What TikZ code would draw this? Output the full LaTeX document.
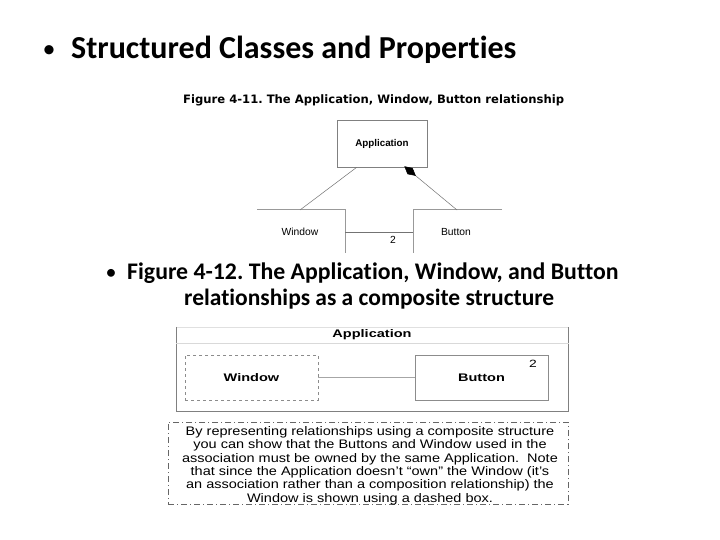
\documentclass[tikz,border=0pt]{standalone}
\usepackage{fontspec}
\setmainfont{Liberation Sans}
\newfontfamily\calfont[Ligatures={NoCommon}]{Carlito}
\newfontfamily\capfont{DejaVu Sans}
\newfontfamily\widefont[FakeStretch=1.32]{Liberation Sans}
\newfontfamily\notefont[FakeStretch=1.17,Ligatures=TeX]{Liberation Sans}
\usetikzlibrary{arrows.meta}
\tikzset{
  umlline/.style={draw=black!55, line width=0.5pt},
  smalllab/.style={font=\fontsize{10.3}{12}\selectfont, inner sep=0pt},
  widelab/.style={font=\widefont\fontsize{11}{12}\selectfont\bfseries, inner sep=0pt},
}
\begin{document}
\frenchspacing
\begin{tikzpicture}[x=1pt,y=-1pt]
\useasboundingbox (0,0) rectangle (720,540);
\fill[white] (0,0) rectangle (720,540);
% title
\node[anchor=base west, inner sep=0pt, font=\calfont\fontsize{32}{34}\selectfont\bfseries] (title) at (71,59) {Structured Classes and Properties};
\node[anchor=base, inner sep=0pt, font=\calfont\fontsize{26}{30}\selectfont] (bul1) at (49,58) {•};
% Figure 4-11 caption
\node[anchor=base west, inner sep=0pt, font=\capfont\fontsize{11.6}{13}\selectfont\bfseries] (cap1) at (183,104) {Figure 4-11. The Application, Window, Button relationship};
% Application box
\node[draw=black!50, line width=0.6pt, minimum width=90pt, minimum height=47pt, inner sep=0pt, font=\fontsize{9.8}{11}\selectfont\bfseries] (app) at (382,143.5) {Application};
% partial class boxes
\coordinate (wtl) at (257,210);
\coordinate (wtr) at (345,210);
\coordinate (wbr) at (345,253);
\coordinate (btl) at (413,210);
\coordinate (btr) at (502,210);
\coordinate (bbl) at (413,253);
\draw[draw=black!40, line width=1pt] (wtl) -- (wtr) -- (wbr);
\draw[draw=black!40, line width=1pt] (btr) -- (btl) -- (bbl);
\node[smalllab] (win1) at (300,232) {Window};
\node[smalllab] (but1) at (456,232) {Button};
\coordinate (wmid) at (345,232);
\coordinate (bmid) at (413,232);
\draw[umlline] (wmid) -- (bmid);
\node[smalllab] (two1) at (393,240) {2};
\coordinate (wtop) at (300,210);
\coordinate (btop) at (457,210);
\draw[umlline] (app.south west) ++(20,0) coordinate (appL) -- (wtop);
\draw[umlline, {Diamond[length=15pt,width=8pt,black]}-] (app.south east) ++(-23,-1) coordinate (appR) -- (btop);
% second bullet
\node[anchor=base, inner sep=0pt, font=\calfont\fontsize{22}{24}\selectfont] (bul2) at (111,279) {•};
\node[anchor=base west, inner sep=0pt, font=\calfont\fontsize{23.8}{26}\selectfont\bfseries] (cap2a) at (127,279) {Figure 4-12. The Application, Window, and Button};
\node[anchor=base west, inner sep=0pt, font=\calfont\fontsize{23.5}{26}\selectfont\bfseries] (cap2b) at (184,305) {relationships as a composite structure};
% Figure 4-12 outer box
\node[minimum width=392pt, minimum height=84pt, inner sep=0pt] (outer) at (372.5,369) {};
\draw[draw=black!12, line width=0.6pt] (outer.north west) -- (outer.north east);
\draw[draw=black!50, line width=0.9pt] (outer.north west) -- (outer.south west) -- (outer.south east) -- (outer.north east);
\draw[draw=black!15, line width=0.6pt] (outer.west |- 0,343) coordinate (sepL) -- (outer.east |- 0,343) coordinate (sepR);
\node[widelab] (apptitle) at (372,335) {Application};
\node[draw=black!45, dashed, line width=0.7pt, minimum width=133pt, minimum height=45pt, inner sep=0pt, widelab] (win2) at (251.5,377.5) {Window};
\node[draw=black!45, line width=0.7pt, minimum width=133pt, minimum height=45pt, inner sep=0pt, widelab] (but2) at (481.5,377.5) {Button};
\draw[draw=black!35, line width=0.7pt] (win2.east) -- (but2.east -| but2.west);
\node[font=\widefont\fontsize{10.5}{12}\selectfont, inner sep=0pt] (two2) at (533,364) {2};
% note box
\node[draw=black!60, dash pattern=on 6pt off 3pt on 1pt off 3pt, line width=0.7pt, minimum width=400pt, minimum height=82pt, inner sep=0pt] (note) at (368,463) {};
\node[align=center, inner sep=0pt, font=\notefont\fontsize{12.4}{13.4}\selectfont] (notetext) at (370,465.5) {By representing relationships using a composite structure\\
you can show that the Buttons and Window used in the\\
association must be owned by the same Application.\ \ Note\\
that since the Application doesn't ``own'' the Window (it's\\
an association rather than a composition relationship) the\\
Window is shown using a dashed box.};
\end{tikzpicture}
\end{document}
